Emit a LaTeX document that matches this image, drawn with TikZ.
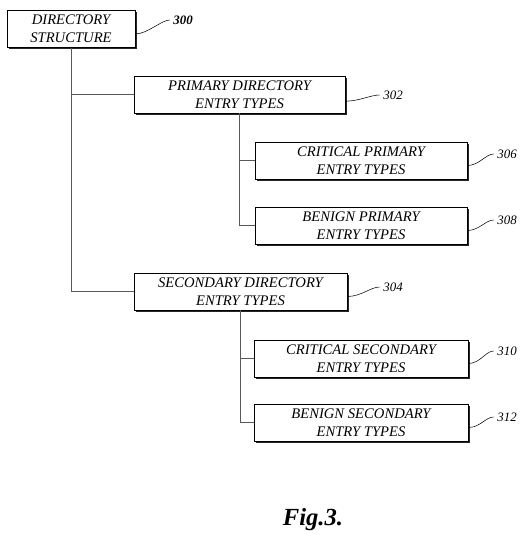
\documentclass[tikz,border=0pt]{standalone}
\usepackage{fontspec}
\setmainfont{Liberation Serif}
\usetikzlibrary{shadows}

\begin{document}
\begin{tikzpicture}[x=0.03cm, y=-0.03cm,
  box/.style={draw, fill=white, thin, align=center, minimum height=1.11cm,
    inner sep=1pt, font=\itshape\fontsize{12.5}{15.5}\selectfont,
    drop shadow={shadow xshift=1.3pt, shadow yshift=-1.3pt, fill=black!85, opacity=1}},
  ref/.style={font=\itshape\fontsize{11}{12}\selectfont, anchor=west, inner sep=1pt},
  link/.style={draw, black!65, line width=0.5pt},
  squig/.style={draw, line width=0.45pt}]
  \useasboundingbox (0,0) rectangle (531,550);

  \node[box, minimum width=3.84cm] (root)  at (71,29)      {DIRECTORY\\STRUCTURE};
  \node[box, minimum width=6.33cm] (prim)  at (239.5,94.5) {PRIMARY DIRECTORY\\ENTRY TYPES};
  \node[box, minimum width=6.36cm] (critp) at (361,160.5)  {CRITICAL PRIMARY\\ENTRY TYPES};
  \node[box, minimum width=6.36cm] (benp)  at (361,225.5)  {BENIGN PRIMARY\\ENTRY TYPES};
  \node[box, minimum width=6.39cm] (sec)   at (240.5,291.5){SECONDARY DIRECTORY\\ENTRY TYPES};
  \node[box, minimum width=6.42cm] (crits) at (361,358.5)  {CRITICAL SECONDARY\\ENTRY TYPES};
  \node[box, minimum width=6.42cm] (bens)  at (361,422.5)  {BENIGN SECONDARY\\ENTRY TYPES};

  % tree links
  \draw[link] (root.south) |- (sec.west);
  \draw[link] (root.south |- prim.west) -- (prim.west);
  \draw[link] (prim.south) |- (benp.west);
  \draw[link] (prim.south |- critp.west) -- (critp.west);
  \draw[link] (sec.south) |- (bens.west);
  \draw[link] (sec.south |- crits.west) -- (crits.west);

  % reference numerals
  \node[ref, font=\bfseries\itshape\fontsize{11}{12}\selectfont] (n300) at (172,20) {300};
  \node[ref] (n302) at (382,95)  {302};
  \node[ref] (n306) at (496,154) {306};
  \node[ref] (n308) at (496,220) {308};
  \node[ref] (n304) at (382,287) {304};
  \node[ref] (n310) at (496,351) {310};
  \node[ref] (n312) at (496,417) {312};

  \draw[squig] ([yshift=-0.15cm]root.east) .. controls +(12,0) and +(-8,0) .. ([xshift=-2pt]n300.west);
  \draw[squig] ([yshift=-0.2cm]prim.east) .. controls +(14,0) and +(-9,0) .. ([xshift=-2pt]n302.west);
  \draw[squig] ([yshift=-0.15cm]critp.east) .. controls +(12,0) and +(-8,0) .. ([xshift=-2pt]n306.west);
  \draw[squig] ([yshift=-0.15cm]benp.east) .. controls +(12,0) and +(-8,0) .. ([xshift=-2pt]n308.west);
  \draw[squig] ([yshift=-0.15cm]sec.east) .. controls +(14,0) and +(-9,0) .. ([xshift=-2pt]n304.west);
  \draw[squig] ([yshift=-0.15cm]crits.east) .. controls +(12,0) and +(-8,0) .. ([xshift=-2pt]n310.west);
  \draw[squig] ([yshift=-0.15cm]bens.east) .. controls +(12,0) and +(-8,0) .. ([xshift=-2pt]n312.west);

  \node[font=\bfseries\itshape\fontsize{21}{24}\selectfont] (fig) at (313,520) {Fig.3.};
\end{tikzpicture}
\end{document}
